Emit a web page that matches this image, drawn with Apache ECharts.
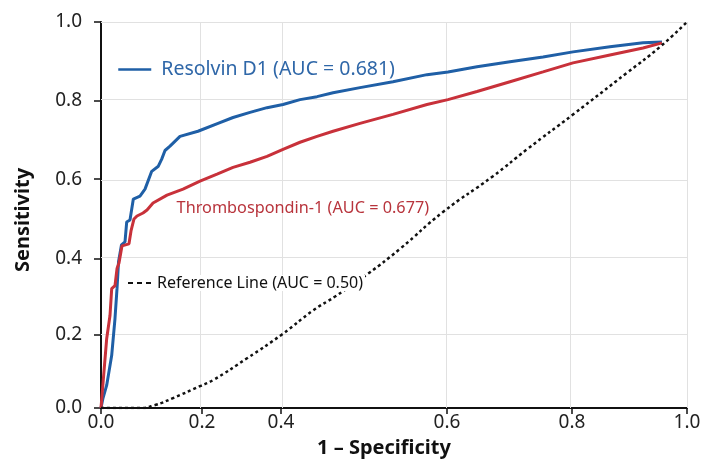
<!DOCTYPE html>
<html>
<head>
<meta charset="utf-8">
<script src="https://cdn.jsdelivr.net/npm/echarts@6/dist/echarts.min.js"></script>
<style>html,body{margin:0;padding:0;background:#fff}#chart{width:712px;height:463px}</style>
</head>
<body>
<div id="chart"></div>
<script>
// ---- axis scales (tick values and where the printed axis places them, as fraction of axis length) ----
const xTickValues = [0, 0.2, 0.4, 0.6, 0.8, 1.0];
const xTickLabels = ['0.0', '0.2', '0.4', '0.6', '0.8', '1.0'];
const xTickScale  = [0, 0.1724, 0.3072, 0.5904, 0.8038, 1.0];
const yTickValues = [0, 0.2, 0.4, 0.6, 0.8, 1.0];
const yTickLabels = ['0.0', '0.2', '0.4', '0.6', '0.8', '1.0'];
const yTickScale  = [0, 0.1907, 0.3866, 0.5928, 0.7964, 1.0];

// ---- series names ----
const nameResolvin = 'Resolvin D1 (AUC = 0.681)';
const nameThrombo = 'Thrombospondin-1 (AUC = 0.677)';
const nameRef = 'Reference Line (AUC = 0.50)';

// ---- ROC points [1 - specificity, sensitivity] ----
const resolvinFPR = [0, 0.004, 0.0113, 0.0212, 0.0277, 0.0317, 0.0347, 0.0406, 0.0475, 0.0509, 0.0574, 0.064, 0.0772, 0.0871, 0.1004, 0.1135, 0.1202, 0.1267, 0.1366, 0.1564, 0.192, 0.2405, 0.2785, 0.3215, 0.3646, 0.4024, 0.4229, 0.4434, 0.4627, 0.4952, 0.5349, 0.5759, 0.6016, 0.648, 0.7008, 0.7536, 0.8017, 0.866, 0.9235, 0.9565];
const resolvinTPR = [0, 0.027, 0.062, 0.143, 0.242, 0.321, 0.392, 0.435, 0.4425, 0.4925, 0.4975, 0.55, 0.5575, 0.575, 0.620, 0.633, 0.651, 0.673, 0.684, 0.709, 0.722, 0.742, 0.757, 0.770, 0.782, 0.790, 0.8025, 0.810, 0.820, 0.833, 0.848, 0.866, 0.873, 0.886, 0.899, 0.911, 0.924, 0.937, 0.947, 0.949];

const thromboFPR = [0, 0.004, 0.0113, 0.0178, 0.0212, 0.0277, 0.0317, 0.0356, 0.0416, 0.0554, 0.0594, 0.0653, 0.0713, 0.0832, 0.0911, 0.103, 0.1307, 0.1624, 0.196, 0.238, 0.2785, 0.3215, 0.3646, 0.4024, 0.4229, 0.4434, 0.4627, 0.4952, 0.5349, 0.5759, 0.6016, 0.648, 0.7008, 0.7536, 0.8017, 0.866, 0.9235, 0.9565];
const thromboTPR = [0, 0.0676, 0.189, 0.250, 0.321, 0.329, 0.374, 0.389, 0.4325, 0.4375, 0.47, 0.50, 0.5075, 0.515, 0.5225, 0.54, 0.56, 0.575, 0.595, 0.613, 0.630, 0.643, 0.658, 0.676, 0.694, 0.709, 0.722, 0.742, 0.765, 0.790, 0.8025, 0.823, 0.848, 0.873, 0.896, 0.916, 0.934, 0.947];

const refFPR = [0, 0.0772, 0.107, 0.1426, 0.196, 0.2279, 0.3139, 0.4012, 0.4386, 0.4651, 0.5048, 0.5434, 0.5952, 0.6736, 0.728, 0.8017, 0.8957, 0.953, 1.0];
const refTPR = [0, 0, 0.008, 0.027, 0.0595, 0.0757, 0.1351, 0.2, 0.2632, 0.300, 0.3605, 0.425, 0.5175, 0.6076, 0.676, 0.7646, 0.8709, 0.9367, 1.0];

// piecewise-linear axis scale, matching the printed tick spacing
function warp(v, vals, pos) {
  for (let i = 1; i < vals.length; i++) {
    if (v <= vals[i] || i === vals.length - 1) {
      const t = (v - vals[i - 1]) / (vals[i] - vals[i - 1]);
      return pos[i - 1] + t * (pos[i] - pos[i - 1]);
    }
  }
  return v;
}
const wx = v => warp(v, xTickValues, xTickScale);
const wy = v => warp(v, yTickValues, yTickScale);
function toData(xs, ys) {
  return xs.map((x, i) => [wx(x), wy(ys[i])]);
}
function labelFor(v, pos, labels) {
  for (let i = 0; i < pos.length; i++) if (Math.abs(pos[i] - v) < 1e-6) return labels[i];
  return '';
}

const FONT = 'Noto Sans';
const blue = '#1f5fa6';
const red = '#c8313a';
const gridColor = '#e1e1e1';

const gridLines = [
  ...xTickValues.slice(1).map(v => ({xAxis: wx(v)})),
  ...yTickValues.slice(1).map(v => ({yAxis: wy(v)}))
];

const chart = echarts.init(document.getElementById('chart'), null, {renderer: 'canvas'});
chart.setOption({
  backgroundColor: '#ffffff',
  animation: false,
  textStyle: {fontFamily: FONT},
  grid: {left: 101, right: 25, top: 22, bottom: 53, containLabel: false},
  legend: [
    {
      data: [nameResolvin], left: 117, top: 59.5, padding: 0, selectedMode: false, z: 10,
      itemWidth: 33, itemHeight: 14, itemStyle: {opacity: 0},
      lineStyle: {width: 2.5, color: blue},
      textStyle: {fontFamily: FONT, fontSize: 19.5, color: '#2f67a8', padding: [0, 0, 0, 5]}
    },
    {
      data: [nameThrombo], left: 166, top: 200.5, padding: 0, selectedMode: false, z: 10,
      itemWidth: 0, itemHeight: 14,
      itemStyle: {opacity: 0}, lineStyle: {opacity: 0},
      textStyle: {fontFamily: FONT, fontSize: 16.25, color: '#b8343c'}
    },
    {
      data: [nameRef], left: 127, top: 275, padding: [0, 2, 0, 0], selectedMode: false, z: 10,
      itemWidth: 24, itemHeight: 14, backgroundColor: '#ffffff',
      itemStyle: {opacity: 0},
      lineStyle: {type: [5, 4], width: 2, color: '#111'},
      textStyle: {fontFamily: FONT, fontSize: 16, color: '#111'}
    }
  ],
  xAxis: {
    type: 'value', min: 0, max: 1,
    name: '1 \u2013 Specificity', nameLocation: 'middle', nameGap: 30,
    nameTextStyle: {fontFamily: FONT, fontSize: 20, fontWeight: 'bold', color: '#111', padding: [0, 20, 0, 0]},
    axisLine: {show: true, onZero: false, lineStyle: {color: '#111', width: 2}},
    axisTick: {show: true, length: 6, lineStyle: {color: '#111', width: 1.5}, customValues: xTickScale},
    axisLabel: {
      customValues: xTickScale, margin: 5, fontFamily: FONT, fontSize: 19, color: '#222',
      formatter: v => labelFor(v, xTickScale, xTickLabels)
    },
    splitLine: {show: false}
  },
  yAxis: {
    type: 'value', min: 0, max: 1,
    name: 'Sensitivity', nameLocation: 'middle', nameGap: 68,
    nameTextStyle: {fontFamily: FONT, fontSize: 20, fontWeight: 'bold', color: '#111', padding: [0, 10, 0, 0]},
    axisLine: {show: true, onZero: false, lineStyle: {color: '#111', width: 2}},
    axisTick: {show: true, length: 7, lineStyle: {color: '#111', width: 1.5}, customValues: yTickScale},
    axisLabel: {
      customValues: yTickScale, margin: 19, fontFamily: FONT, fontSize: 19, color: '#222',
      formatter: v => labelFor(v, yTickScale, yTickLabels)
    },
    splitLine: {show: false}
  },
  series: [
    {
      name: 'gridlines', type: 'line', data: [[0, 0]], symbol: 'none', silent: true, z: 1,
      lineStyle: {opacity: 0},
      markLine: {
        silent: true, symbol: ['none', 'none'], z: 1, animation: false,
        label: {show: false},
        lineStyle: {color: gridColor, width: 1, type: 'solid'},
        emphasis: {disabled: true},
        data: gridLines
      }
    },
    {
      name: nameResolvin, type: 'line', data: toData(resolvinFPR, resolvinTPR),
      symbol: 'none', smooth: false, z: 3,
      lineStyle: {color: blue, width: 3}, itemStyle: {color: blue}
    },
    {
      name: nameThrombo, type: 'line', data: toData(thromboFPR, thromboTPR),
      symbol: 'none', smooth: false, z: 4,
      lineStyle: {color: red, width: 3}, itemStyle: {color: red}
    },
    {
      name: nameRef, type: 'line', data: toData(refFPR, refTPR),
      symbol: 'none', smooth: true, z: 5,
      lineStyle: {color: '#111', width: 2.5, type: [3, 3]}, itemStyle: {color: '#111'}
    }
  ]
});
</script>
</body>
</html>
